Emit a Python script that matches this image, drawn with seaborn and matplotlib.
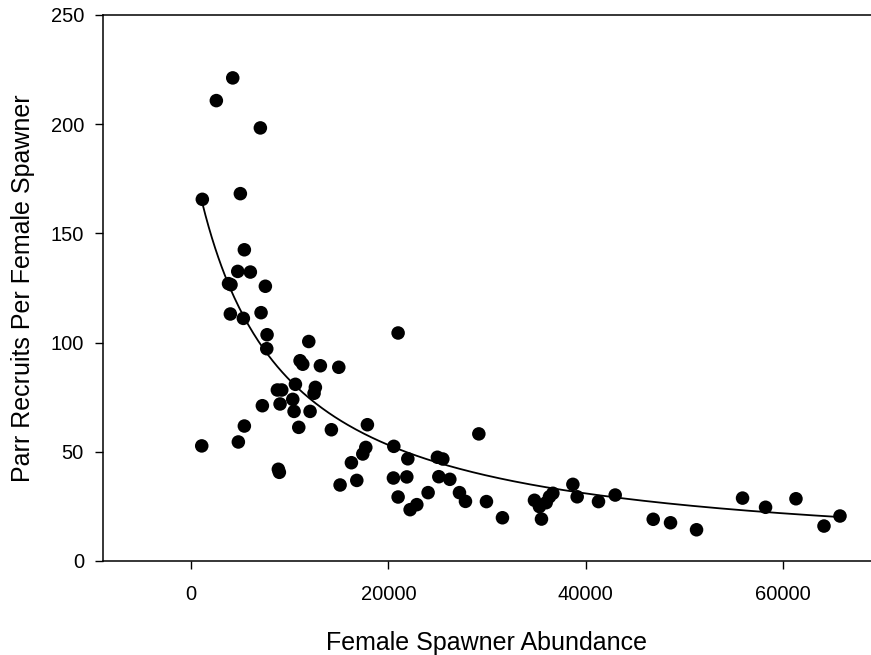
import numpy as np
import pandas as pd
import matplotlib
matplotlib.use("Agg")
import matplotlib.pyplot as plt
import seaborn as sns

# ---- data ----
spawners = [1145, 2565, 4227, 4998, 7025, 5403, 4734, 6011, 3800, 4050,
            7532, 3984, 5302, 7096, 7704, 11931, 7674, 11049, 11322, 13107,
            14972, 20983, 10578, 8748, 9194, 12600, 12468, 10309, 7228, 9022,
            10441, 12063, 17871, 5403, 10917, 14222, 4795, 1085, 17709, 17405,
            16250, 8850, 8950, 16797, 15104, 20548, 21967, 24967, 25514, 20507,
            21865, 25109, 26224, 20983, 24024, 22879, 22200, 27200, 27808, 29934,
            31556, 29163, 34800, 35307, 35986, 36320, 36665, 35510, 38692, 39128,
            41288, 42980, 46832, 48587, 51222, 55885, 58216, 61297, 64136, 65758]
recruits_per_spawner = [165.6, 210.8, 221.2, 168.2, 198.3, 142.5, 132.6, 132.3, 127.0, 126.5,
                        125.8, 113.1, 111.1, 113.7, 103.6, 100.5, 97.2, 91.7, 90.1, 89.4,
                        88.7, 104.4, 80.9, 78.3, 78.3, 79.5, 76.8, 74.0, 71.1, 71.9,
                        68.5, 68.5, 62.4, 61.8, 61.2, 60.1, 54.5, 52.7, 52.0, 49.0,
                        45.0, 42.0, 40.6, 36.9, 34.8, 52.5, 46.8, 47.5, 46.7, 38.0,
                        38.5, 38.6, 37.4, 29.3, 31.3, 25.8, 23.5, 31.3, 27.3, 27.2,
                        19.8, 58.2, 27.8, 24.9, 26.7, 29.4, 31.0, 19.2, 35.1, 29.4,
                        27.2, 30.2, 19.1, 17.5, 14.3, 28.8, 24.6, 28.5, 16.0, 20.6]

# fitted curve y = a / (x + c), parameters
fit_a = 1.482e6
fit_c = 7899.0

x_ticks = [0, 20000, 40000, 60000]
y_ticks = [0, 50, 100, 150, 200, 250]
x_label = "Female Spawner Abundance"
y_label = "Parr Recruits Per Female Spawner"

df = pd.DataFrame({"S": spawners, "RS": recruits_per_spawner})
xs = np.linspace(spawners[0], max(spawners), 400)
curve = pd.DataFrame({"S": xs, "RS": fit_a / (xs + fit_c)})

sns.set_theme(style="white")
plt.rcParams["font.family"] = ["Liberation Sans", "DejaVu Sans"]

fig = plt.figure(figsize=(8.71, 6.55), dpi=100)
ax = fig.add_axes([102.7 / 871, 94 / 655, (871 - 102.7) / 871, 546 / 655])

sns.lineplot(data=curve, x="S", y="RS", ax=ax, color="black", linewidth=1.3)
sns.scatterplot(data=df, x="S", y="RS", ax=ax, color="black", s=95,
                edgecolor="none", zorder=3)

ax.set_xlim(-8950, 68900)
ax.set_ylim(0, 250)
ax.set_xticks(x_ticks)
ax.set_yticks(y_ticks)
ax.set_xticklabels([str(t) for t in x_ticks])
ax.set_yticklabels([str(t) for t in y_ticks])
ax.tick_params(axis="both", which="major", direction="out", length=6,
               width=1.0, color="black", labelsize=14.5, labelcolor="black")
ax.tick_params(axis="x", pad=11.5)
ax.tick_params(axis="y", pad=7.5)
ax.xaxis.set_ticks_position("bottom")
ax.yaxis.set_ticks_position("left")

for side in ["left", "bottom", "top"]:
    ax.spines[side].set_visible(True)
    ax.spines[side].set_color("black")
    ax.spines[side].set_linewidth(1.1)
ax.spines["right"].set_visible(False)

ax.set_xlabel(x_label, fontsize=18, color="black", labelpad=19)
ax.set_ylabel(y_label, fontsize=18, color="black", labelpad=11)
ax.grid(False)

fig.savefig("out.png", dpi=100)
